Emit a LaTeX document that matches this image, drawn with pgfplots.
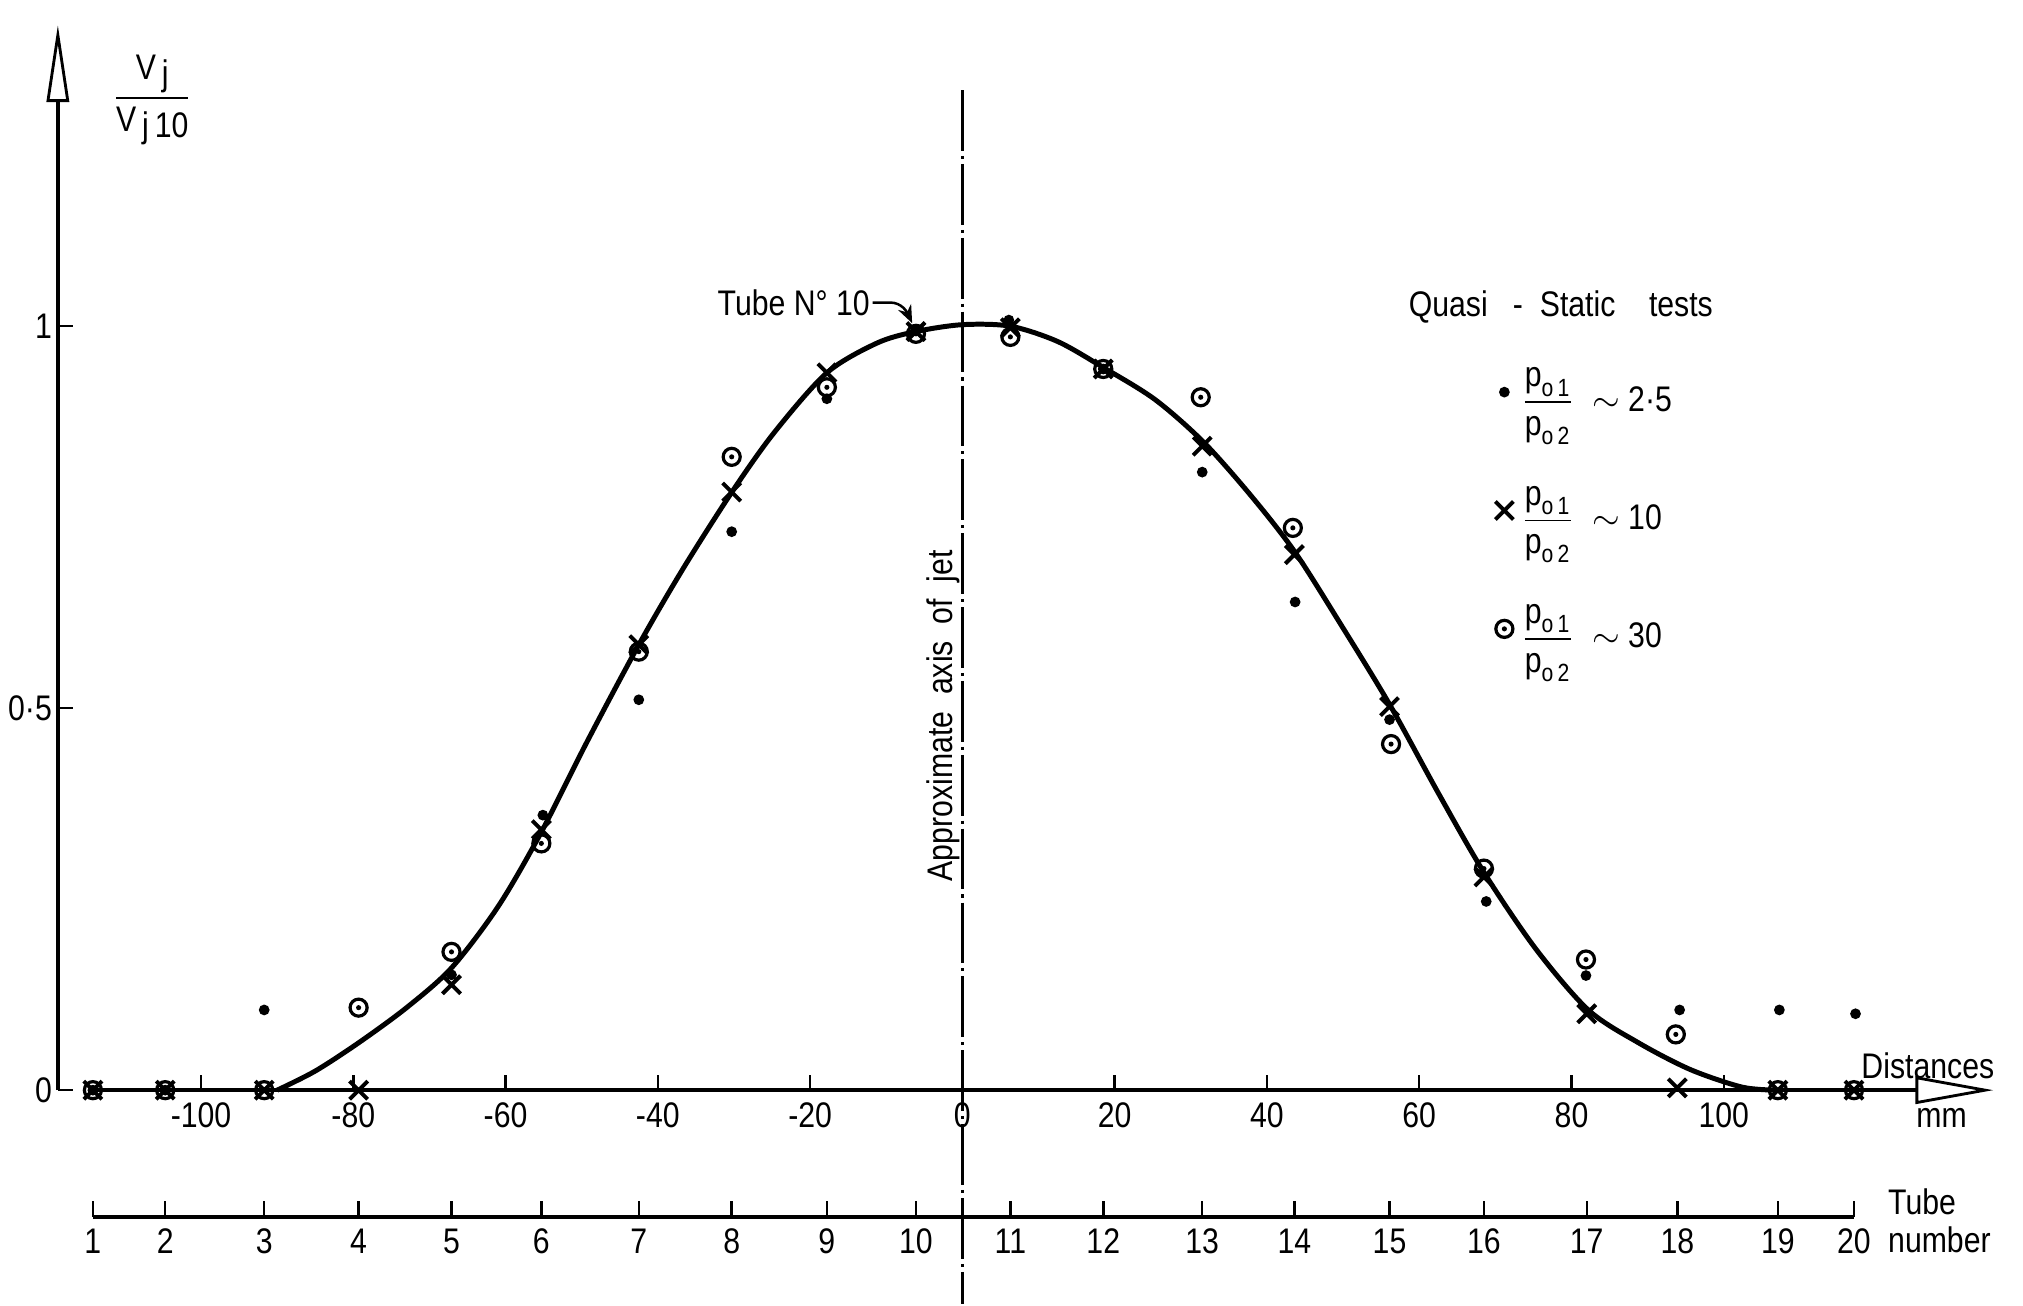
\documentclass[border=0pt]{standalone}
\usepackage{fontspec}
\setmainfont{Liberation Sans}[FakeStretch=0.85]
\usepackage{amsmath}
\usepackage{pgfplots}
\pgfplotsset{compat=1.18}
\usetikzlibrary{arrows.meta}

% circle with a centre dot
\pgfdeclareplotmark{odot}{%
  \pgfpathcircle{\pgfpoint{0pt}{0pt}}{\pgfplotmarksize}\pgfusepathqstroke
  \pgfpathcircle{\pgfpoint{0pt}{0pt}}{0.3\pgfplotmarksize}\pgfusepathqfill}

\newcommand{\pratio}{$\dfrac{\text{p}_{\text{o\,1}}}{\text{p}_{\text{o\,2}}}$}

\begin{document}
\begin{tikzpicture}
\begin{axis}[
  x=0.07526cm, y=7.551cm,
  xmin=-118.8, xmax=135.4, ymin=0, ymax=1.394,
  axis x line=bottom, axis y line=left,
  clip=false,
  x axis line style={line width=1.1pt, shorten <=0.35cm,
    -{Triangle[open,line width=0.8pt,length=0.77cm,width=0.27cm]}},
  y axis line style={line width=1.1pt,
    -{Triangle[open,line width=0.8pt,length=0.76cm,width=0.22cm]}},
  tick align=inside,
  major tick length=0.15cm,
  tick style={line width=0.7pt, black},
  xtick={-100,-80,...,100},
  xticklabels={-100,-80,-60,-40,-20,0,20,40,60,80,100},
  ytick={0,0.5,1},
  yticklabels={0,0\textperiodcentered5,1},
  yticklabel style={inner sep=1.5pt},
  tick label style={font=\fontsize{10}{12}\selectfont},
  legend style={at={(axis cs:68.5,0.965)}, anchor=north west, draw=none,
    fill=none, row sep=0.55cm, font=\fontsize{10}{12}\selectfont},
  legend cell align=left,
]
% fitted curve
\addplot[smooth, line width=1.4pt, forget plot] coordinates {
  (-90,0) (-85,0.025) (-79.3,0.062) (-73,0.108) (-67.1,0.16) (-61,0.24)
  (-55.4,0.336) (-49.3,0.456)
  (-42.5,0.583) (-36.6,0.684) (-30.2,0.784) (-24.7,0.861) (-17.8,0.939)
  (-11.2,0.978) (-6.1,0.993) (0,1.002) (6.3,1.0) (12.5,0.98)
  (18.5,0.946) (25.3,0.904) (31.7,0.848) (38,0.777) (43.7,0.704)
  (49.8,0.608) (56.1,0.505) (62.5,0.389) (68.5,0.285) (75.3,0.185)
  (82.2,0.105) (88.8,0.062) (95.6,0.027) (102.4,0.004) (107,0)
};
% p01/p02 ~ 2.5
\addplot[only marks, mark=*, mark size=1.3pt] coordinates {
  (-114.2,0) (-104.7,0) (-91.7,0.105) (-67.1,0.151) (-55.1,0.36)
  (-42.5,0.511) (-30.3,0.731) (-17.8,0.905) (-6.1,0.995) (6.1,1.008)
  (18.5,0.944) (31.5,0.809) (43.7,0.639) (56.1,0.485) (68.8,0.247)
  (81.9,0.150) (94.2,0.105) (107.3,0.105) (117.3,0.1)
};
\addlegendentry{\pratio\ \ $\sim$ 2\textperiodcentered5}
% p01/p02 ~ 10
\addplot[only marks, mark=x, mark size=3.6pt, mark options={line width=1.1pt}] coordinates {
  (-114.2,0) (-104.7,0) (-91.7,0) (-79.3,0) (-67.1,0.138) (-55.3,0.341)
  (-42.5,0.583) (-30.3,0.783) (-17.8,0.939) (-6.1,0.993) (6.3,0.998)
  (18.5,0.944) (31.5,0.843) (43.6,0.701) (56.1,0.502) (68.5,0.279)
  (82.0,0.10) (93.9,0.003) (107.1,0) (117.1,0)
};
\addlegendentry{\pratio\ \ $\sim$ 10}
% p01/p02 ~ 30
\addplot[only marks, mark=odot, mark size=2.4pt, mark options={line width=0.9pt}] coordinates {
  (-114.2,0) (-104.7,0) (-91.7,0) (-79.3,0.108) (-67.1,0.181) (-55.3,0.323)
  (-42.5,0.574) (-30.3,0.829) (-17.8,0.92) (-6.1,0.99) (6.3,0.986)
  (18.5,0.944) (31.3,0.907) (43.4,0.736) (56.3,0.453) (68.5,0.29)
  (81.9,0.171) (93.7,0.073) (107.1,0) (117.1,0)
};
\addlegendentry{\pratio\ \ $\sim$ 30}

% axis of the jet
\draw[line width=0.7pt, dash pattern=on 0.6cm off 0.05cm on 0.03cm off 0.05cm]
  (axis cs:0,1.309) -- (axis cs:0,-0.28);
\node[rotate=90, anchor=base, inner sep=0pt] at (axis cs:-1.3,0.49)
  {Approximate\ \ axis\ \ of\ \ jet};

\node[anchor=east, inner sep=1pt] at (axis cs:-11.6,1.031) {Tube\ N°\ 10};
\draw[line width=0.7pt, -{Stealth[length=5pt,width=4pt]}]
  (axis cs:-11.8,1.031) -- (axis cs:-9.5,1.031) to[out=0,in=115] (axis cs:-6.6,1.004);

\node at (axis cs:78.6,1.025) {Quasi\ \ \ -\ \ Static\ \ \ \ tests};
\node at (axis cs:-106.4,1.296)
  {$\dfrac{\text{V\,\raisebox{-0.35ex}{j}}}{\text{V\,\raisebox{-0.35ex}{j\,10}}}$};

\node at (axis cs:126.8,0.032) {Distances};
\node at (axis cs:128.6,-0.037) {mm};
\node[anchor=west, align=left, inner sep=0pt, font=\fontsize{10}{10.5}\selectfont]
  at (axis cs:121.5,-0.171) {Tube\\number};

% frame of the reference picture
\path (axis cs:-126.4,1.427) rectangle (axis cs:139.3,-0.280);
\end{axis}

% tube number scale
\begin{axis}[
  at={(0,-1.2497cm)}, anchor=south west,
  x=0.07526cm, y=7.551cm,
  xmin=-118.8, xmax=135.4, ymin=-0.1655, ymax=0,
  axis x line=bottom, axis y line=none,
  x axis line style={line width=1.1pt, shorten <=0.346cm, shorten >=1.377cm, -},
  tick align=inside,
  major tick length=0.15cm,
  tick style={line width=0.7pt, black},
  xtick={-114.2,-104.7,-91.7,-79.3,-67.1,-55.3,-42.5,-30.3,-17.8,-6.1,
         6.3,18.5,31.5,43.6,56.1,68.5,82.0,93.9,107.1,117.1},
  xticklabels={1,2,3,4,5,6,7,8,9,10,11,12,13,14,15,16,17,18,19,20},
  tick label style={font=\fontsize{10}{12}\selectfont},
]
\end{axis}
\end{tikzpicture}
\end{document}
